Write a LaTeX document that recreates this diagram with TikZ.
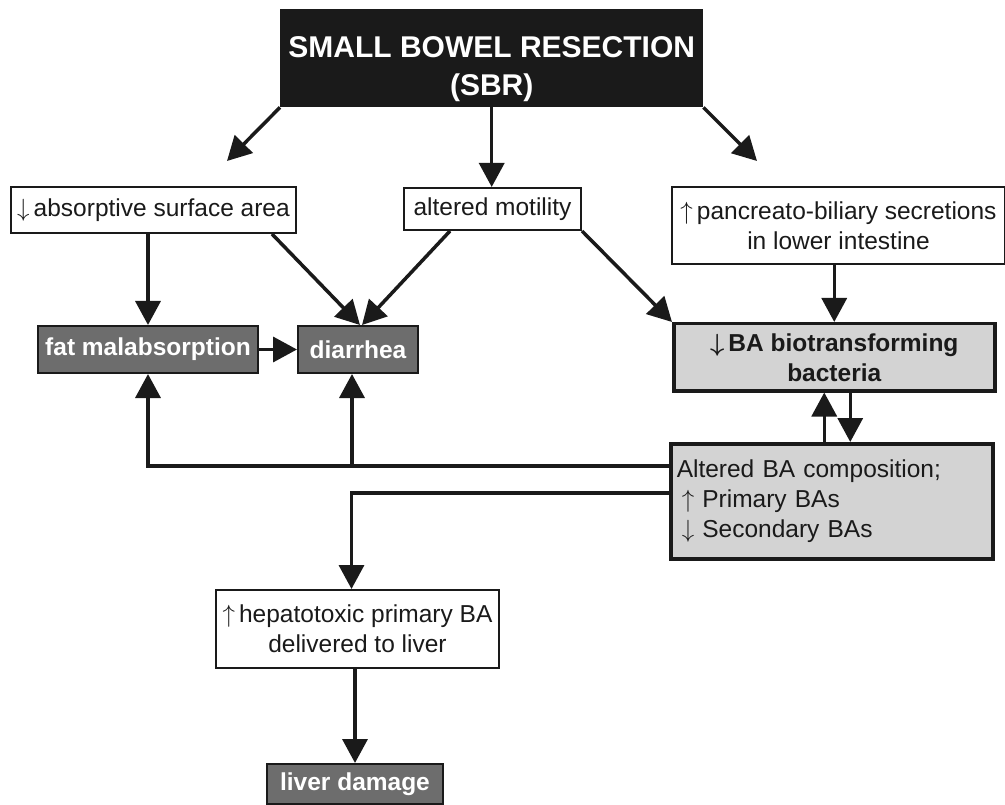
\documentclass[tikz,border=0pt]{standalone}
\usepackage{fontspec}
\setmainfont{Liberation Sans}
\usetikzlibrary{calc,arrows.meta}
\definecolor{txt}{HTML}{1A1A1A}
\definecolor{dgrey}{HTML}{6D6D6D}
\definecolor{lgrey}{HTML}{D3D3D3}
\newcommand{\arrdn}{$\downarrow$}
\newcommand{\arrup}{$\uparrow$}

\begin{document}
\begin{tikzpicture}[x=1pt,y=-1pt,
    every node/.style={font=\fontsize{24.5}{30}\selectfont, text=txt, inner sep=2pt, anchor=north west},
    whitebox/.style={draw=txt, line width=2pt, fill=white},
    darkbox/.style={draw=txt, line width=2pt, fill=dgrey, text=white, font=\fontsize{24.5}{30}\selectfont\bfseries},
    greybox/.style={draw=txt, line width=3.5pt, fill=lgrey},
    arr/.style={line width=3.5pt, draw=txt, -{Triangle[length=24pt,width=25pt]}},
    conn/.style={line width=3.5pt, draw=txt}]
    \useasboundingbox (0,0) rectangle (1005,805);
    % boxes
    \node[fill=txt, text=white, minimum width=423pt, minimum height=98pt, align=center,
        font=\fontsize{30}{38}\selectfont\bfseries] (sbr) at (280,9)
        {\rule{0pt}{43pt}SMALL BOWEL RESECTION\\(SBR)};
    \node[whitebox, minimum width=285pt, minimum height=46pt] (absorb) at (10,186) {\arrdn\,absorptive surface area};
    \node[whitebox, minimum width=177pt, minimum height=42pt] (motil) at (403,187) {altered motility};
    \node[whitebox, minimum width=333pt, minimum height=77pt, align=center] (panc) at (671,186)
        {\arrup\,pancreato-biliary secretions\\in lower intestine};
    \node[darkbox, minimum width=220pt, minimum height=47pt] (fat) at (37,325) {fat malabsorption};
    \node[darkbox, minimum width=120pt, minimum height=47pt] (diar) at (297,325) {diarrhea};
    \node[greybox, minimum width=321pt, minimum height=67pt, align=center,
        font=\fontsize{24.5}{30}\selectfont\bfseries\boldmath] (bio) at (672,322) {\arrdn\,BA biotransforming\\bacteria};
    \node[greybox, inner xsep=6pt, text width=310pt, minimum height=115pt, align=left] (comp) at (669,442)
        {Altered BA composition;\\\hspace{5pt}\arrup\ Primary BAs\\\hspace{5pt}\arrdn\ Secondary BAs};
    \node[whitebox, minimum width=283pt, minimum height=78pt, align=center] (hep) at (215,589)
        {\arrup\,hepatotoxic primary BA\\delivered to liver};
    \node[darkbox, minimum width=176pt, minimum height=40pt] (liver) at (266,763) {liver damage};
    % connectors
    \coordinate (tl) at (227,161);
    \coordinate (tr) at (757,161);
    \draw[arr] (sbr.south west) -- (tl);
    \draw[arr] (sbr.south) -- (sbr.south |- motil.north);
    \draw[arr] (sbr.south east) -- (tr);
    \draw[arr] (absorb.south -| fat.north) -- (fat.north);
    \draw[arr] ([xshift=-25pt]absorb.south east) -- ([xshift=2pt]diar.north);
    \draw[arr] ([xshift=47pt]motil.south west) -- ([xshift=4pt]diar.north);
    \draw[arr] (motil.south east) -- (bio.north west);
    \draw[arr] (panc.south -| bio.north) -- (bio.north);
    \draw[arr] (fat.east) -- (diar.west);
    \draw[arr] ([xshift=-10pt]bio.south |- comp.north) -- ([xshift=-10pt]bio.south);
    \draw[arr] ([xshift=16pt]bio.south) -- ([xshift=16pt]bio.south |- comp.north);
    \coordinate (outA) at ([yshift=-24pt]comp.north west);
    \coordinate (outB) at ([yshift=-51pt]comp.north west);
    \draw[arr] (outA) -| (fat.south);
    \draw[arr] ([xshift=-6pt]outA -| diar.south) -- ([xshift=-6pt]diar.south);
    \draw[arr] (outB) -| ([xshift=-6pt]hep.north);
    \draw[arr] (hep.south -| liver.north) -- (liver.north);
\end{tikzpicture}
\end{document}
